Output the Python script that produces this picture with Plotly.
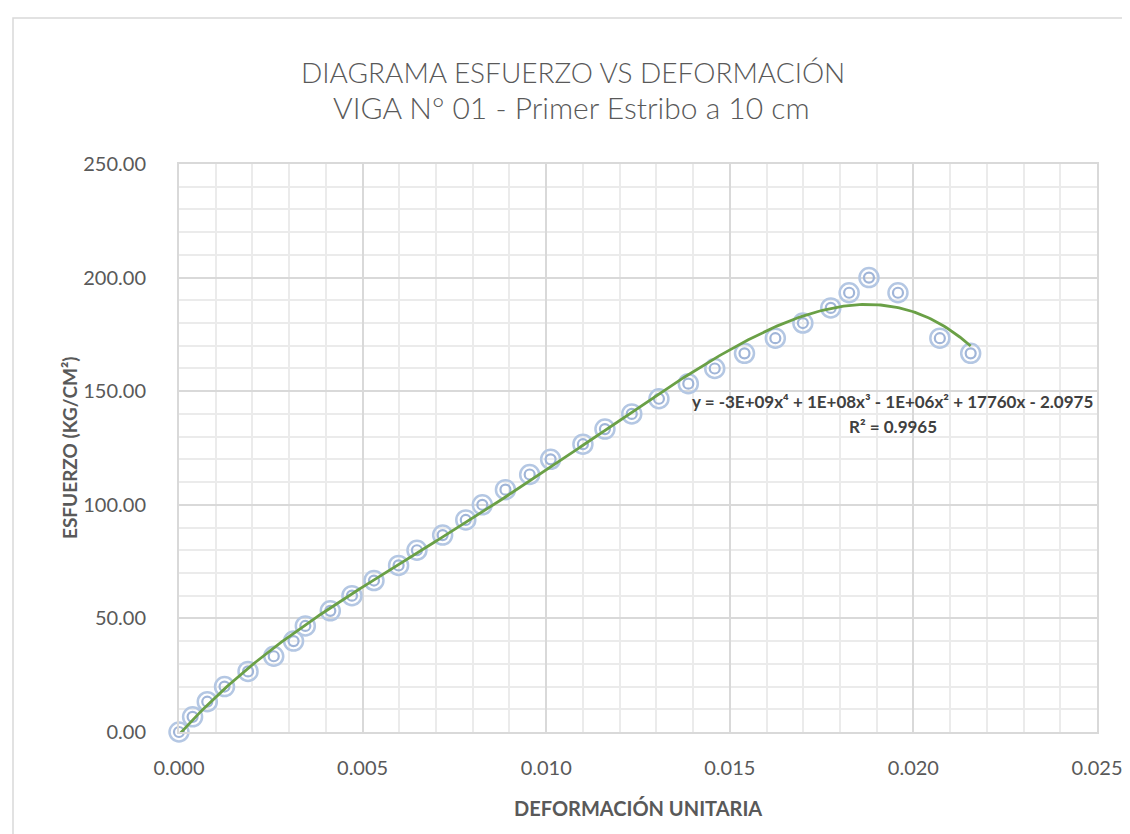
import numpy as np
import plotly.graph_objects as go

# ---- data ----
strain = [0.0000, 0.00037, 0.00077, 0.00124, 0.00188, 0.00258, 0.00312, 0.00344,
          0.00412, 0.00471, 0.00531, 0.00598, 0.00648, 0.00718, 0.00781, 0.00826,
          0.00889, 0.00955, 0.01012, 0.01100, 0.01160, 0.01233, 0.01307, 0.01387,
          0.01459, 0.01540, 0.01624, 0.01699, 0.01775, 0.01825, 0.01879, 0.01958,
          0.02072, 0.02156]
stress = [0.00, 6.67, 13.33, 20.00, 26.67, 33.33, 40.00, 46.67, 53.33, 60.00,
          66.67, 73.33, 80.00, 86.67, 93.33, 100.00, 106.67, 113.33, 120.00, 126.67,
          133.33, 140.00, 146.67, 153.33, 160.00, 166.67, 173.33, 180.00, 186.67,
          193.33, 200.00, 193.33, 173.33, 166.67]

x_tickvals = [0.000, 0.005, 0.010, 0.015, 0.020, 0.025]
y_tickvals = [0, 50, 100, 150, 200, 250]

title_line1 = "DIAGRAMA ESFUERZO VS DEFORMACIÓN"
title_line2 = "VIGA N° 01 - Primer Estribo a 10 cm"
x_title = "DEFORMACIÓN UNITARIA"
y_title = "ESFUERZO (KG/CM²)"
eq_text = "y = -3E+09x⁴ + 1E+08x³ - 1E+06x² + 17760x - 2.0975"
r2_text = "R² = 0.9965"

# polynomial (order 4) trendline fitted to the data
coef = np.polyfit(strain, stress, 4)
xf = np.linspace(min(strain), max(strain), 300)
yf = np.polyval(coef, xf)

FONT = "Lato, 'Open Sans', sans-serif"
GRAY = "#595959"

fig = go.Figure()
fig.add_trace(go.Scatter(
    x=strain, y=stress, mode="markers", showlegend=False, hoverinfo="skip",
    cliponaxis=False,
    marker=dict(symbol="circle-open", size=19, color="#B4C7E3",
                line=dict(width=2.5, color="#B4C7E3"))))
fig.add_trace(go.Scatter(
    x=strain, y=stress, mode="markers", showlegend=False, cliponaxis=False,
    marker=dict(symbol="circle-open", size=10, color="#A0B5D8",
                line=dict(width=2.2, color="#A0B5D8"))))
fig.add_trace(go.Scatter(
    x=xf, y=yf, mode="lines", showlegend=False, hoverinfo="skip",
    line=dict(color="#6AA046", width=2.8)))

W, H = 1130, 834
L, R, T, B = 171, 41, 156, 110
pw, ph = W - L - R, H - T - B

def px(xp):
    return (xp - L) / pw

def py(yp):
    return (H - B - yp) / ph

fig.update_layout(
    width=W, height=H, autosize=False,
    margin=dict(l=L, r=R, t=T, b=B),
    paper_bgcolor="white", plot_bgcolor="white",
    font=dict(family=FONT, color=GRAY),
    xaxis=dict(range=[0, 0.025], tickvals=x_tickvals, tickformat=".3f",
               showgrid=True, gridcolor="#D9D9D9", gridwidth=1.5,
               minor=dict(dtick=0.001, showgrid=True, gridcolor="#EBEBEB", gridwidth=1.5),
               showline=True, mirror=True, linecolor="#D9D9D9", linewidth=2,
               zeroline=False, ticks="", ticklabelstandoff=17,
               tickfont=dict(size=20, color=GRAY, family=FONT)),
    yaxis=dict(range=[0, 250], tickvals=y_tickvals, tickformat=".2f",
               showgrid=True, gridcolor="#D9D9D9", gridwidth=1.5,
               minor=dict(dtick=10, showgrid=True, gridcolor="#EBEBEB", gridwidth=1.5),
               showline=True, mirror=True, linecolor="#D9D9D9", linewidth=2,
               zeroline=False, ticks="", ticklabelstandoff=27,
               tickfont=dict(size=20, color=GRAY, family=FONT)),
)

ann = [
    dict(text=title_line1, x=px(565), y=py(64), font=dict(size=28, weight=300)),
    dict(text=title_line2, x=px(563), y=py(99), font=dict(size=30, weight=300)),
    dict(text=x_title, x=px(630), y=py(800), font=dict(size=20, weight="bold")),
    dict(text=y_title, x=px(61), y=py(440), textangle=-90, font=dict(size=19, weight="bold")),
    dict(text=eq_text, x=px(884), y=py(393), font=dict(size=17, weight="bold", color="#404040")),
    dict(text=r2_text, x=px(885), y=py(418), font=dict(size=17, weight="bold", color="#404040")),
]
for a in ann:
    f = dict(family=FONT, color=GRAY)
    f.update(a.pop("font"))
    fig.add_annotation(xref="paper", yref="paper", showarrow=False,
                       xanchor="center", yanchor="middle", font=f, **a)

fig.add_shape(type="rect", xref="paper", yref="paper",
              x0=px(5), x1=px(1140), y0=py(10), y1=py(845),
              line=dict(color="#D9D9D9", width=1.5), layer="below")

fig.write_html("out.html")
